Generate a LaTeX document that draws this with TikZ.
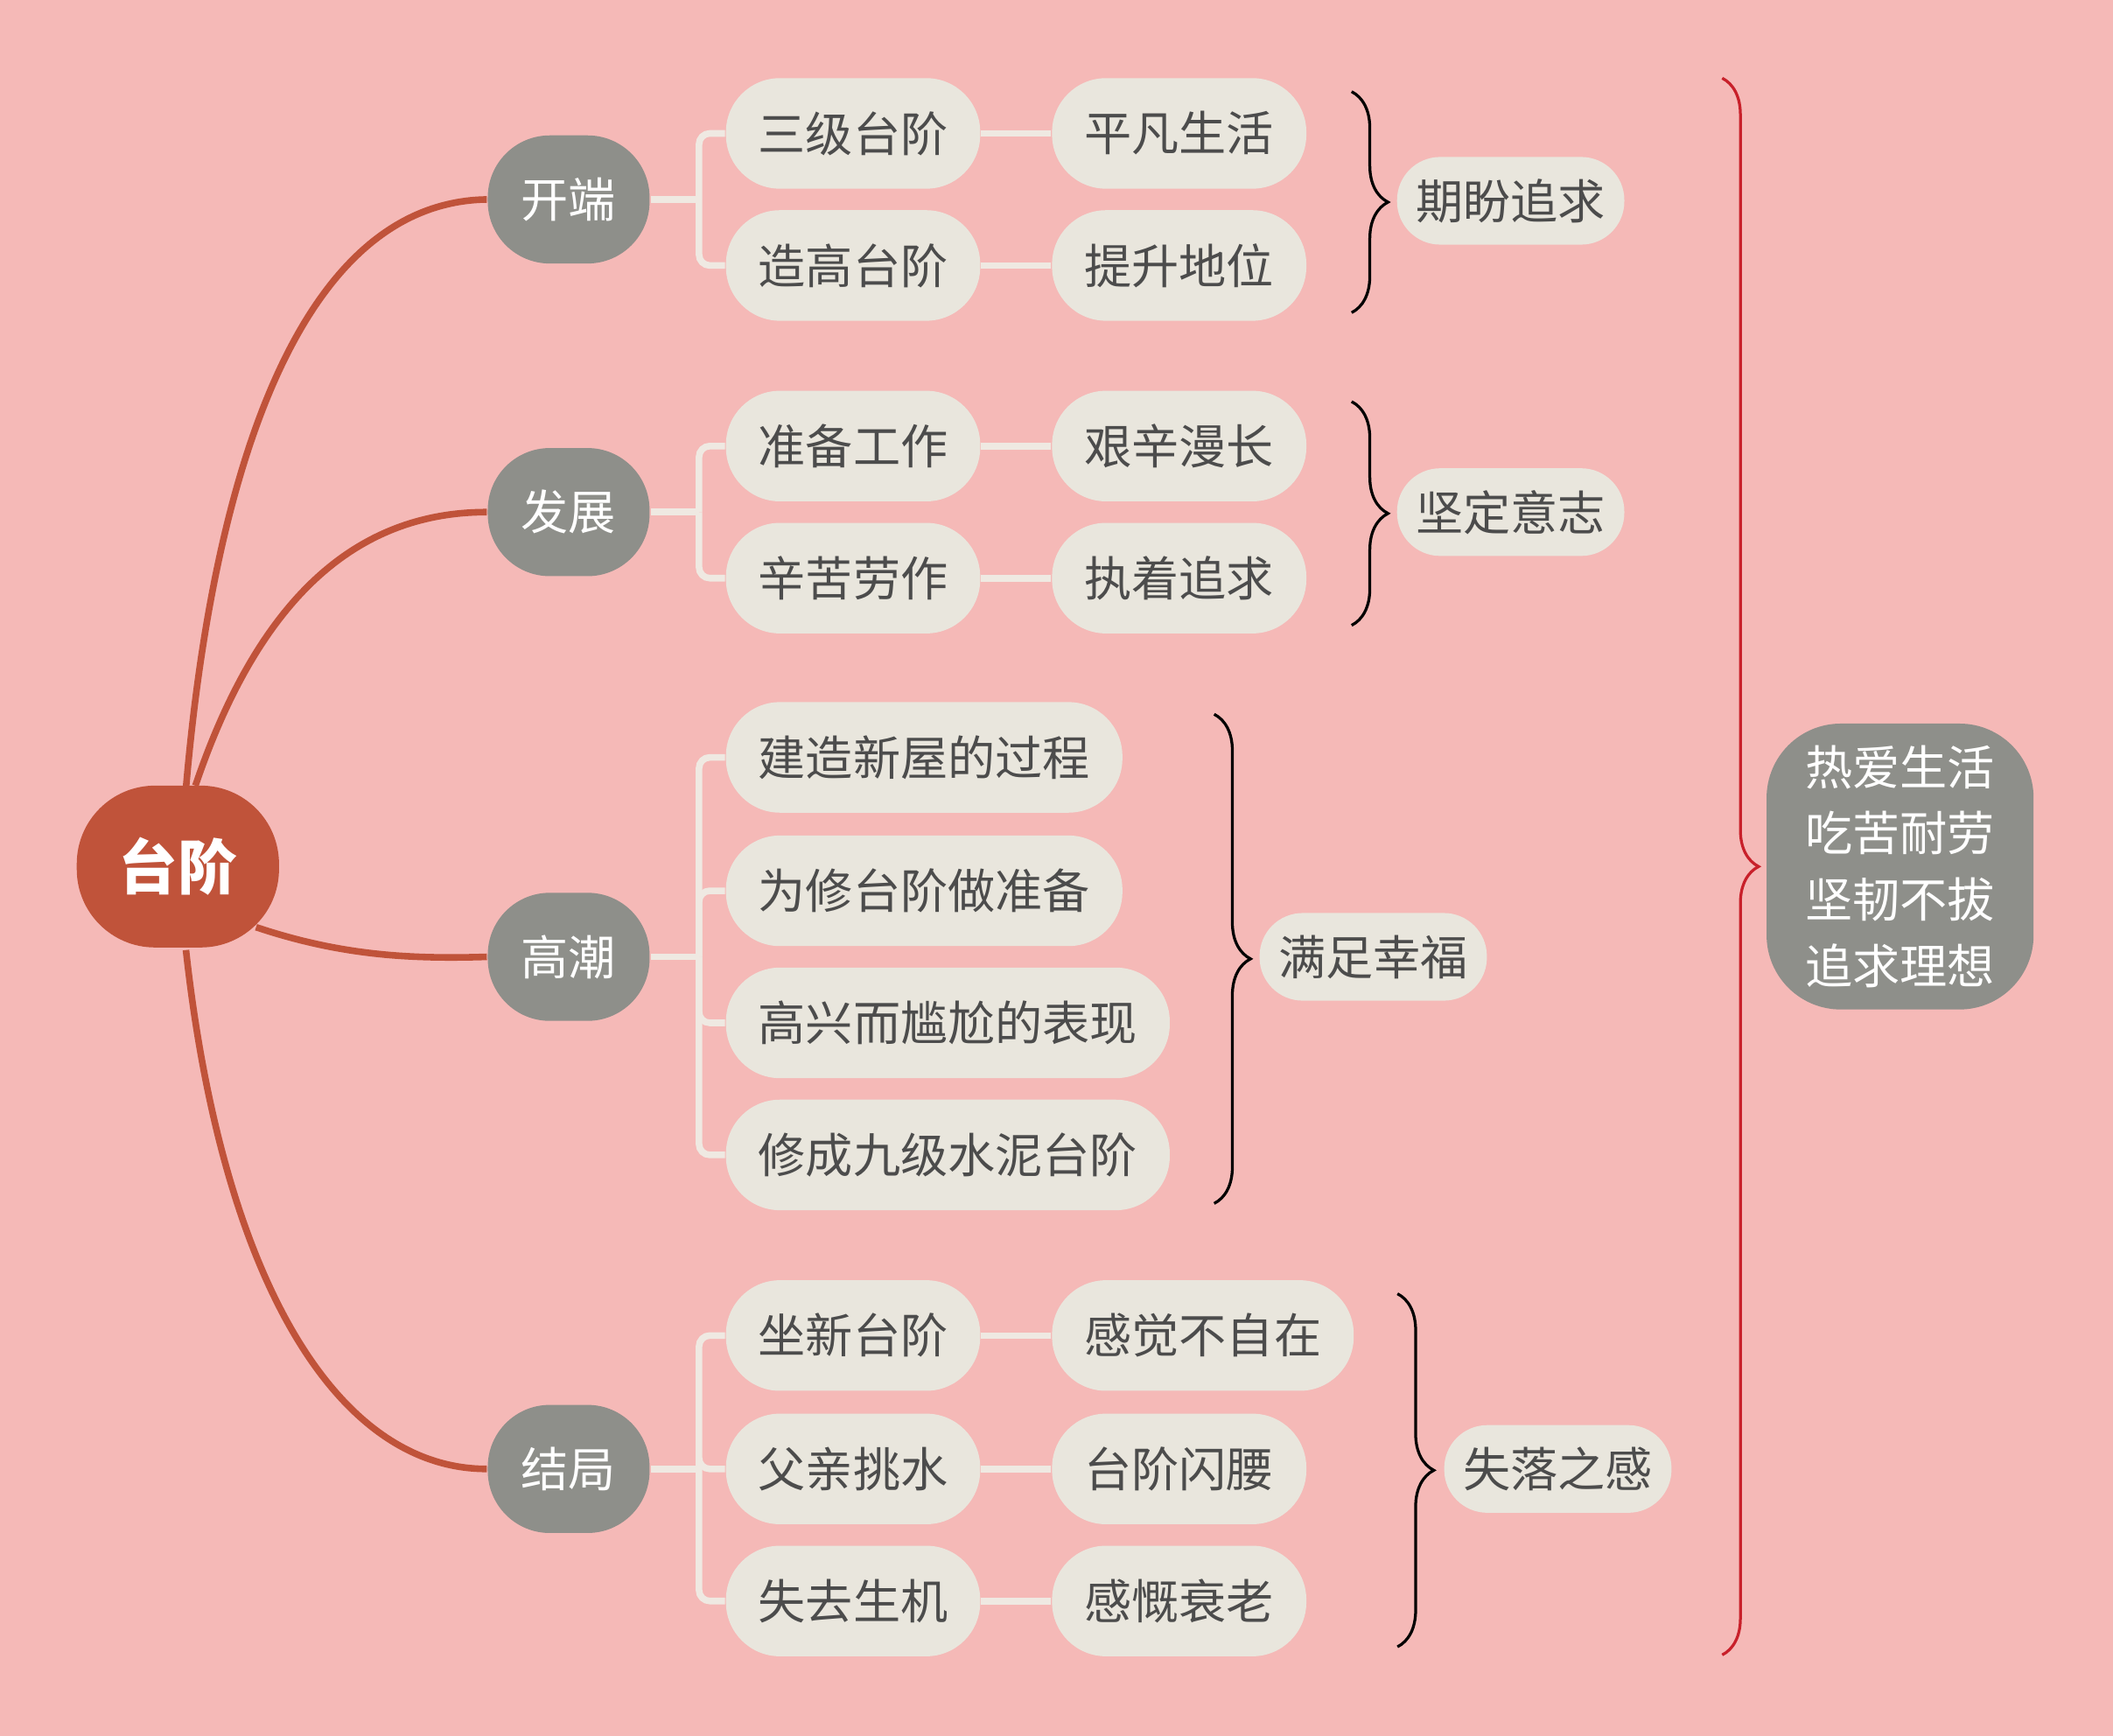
\documentclass[tikz,border=0pt]{standalone}
\usepackage{fontspec}
\setmainfont{Noto Sans CJK SC}
\usetikzlibrary{decorations.pathreplacing,calc}
\definecolor{mybg}{HTML}{F5B9B7}
\definecolor{myroot}{HTML}{C0533A}
\definecolor{mygray}{HTML}{8E8F8A}
\definecolor{mypill}{HTML}{E9E6DD}
\definecolor{mylink}{HTML}{EFE9E2}
\definecolor{myred}{HTML}{C8202A}
\tikzset{
	rootnode/.style={fill=myroot,text=white,rounded corners=5.8mm,minimum width=15mm,minimum height=12mm,inner sep=0,font=\fontsize{12.5pt}{15pt}\selectfont\bfseries},
	topicnode/.style={fill=mygray,text=white,rounded corners=4.6mm,minimum width=12mm,minimum height=9.5mm,inner sep=0,font=\fontsize{10pt}{12pt}\selectfont},
	pillnode/.style={fill=mypill,text=black!70,rounded corners=4mm,minimum height=8.2mm,inner xsep=2.4mm,inner ysep=0,font=\fontsize{10pt}{12pt}\selectfont},
	tagnode/.style={fill=mypill,text=black!70,rounded corners=3.2mm,minimum height=6.5mm,inner xsep=1.4mm,inner ysep=0,font=\fontsize{10pt}{12pt}\selectfont},
	sumnode/.style={fill=mygray,text=white,rounded corners=5.5mm,minimum width=19.8mm,minimum height=21.2mm,inner sep=0,align=center,font=\fontsize{10pt}{14pt}\selectfont},
	rootlink/.style={draw=myroot,line width=1.4pt},
	link/.style={draw=mylink,line width=1.4pt,rounded corners=0.8mm},
	bracket/.style={decorate,decoration={brace,amplitude=0.27cm},line width=0.6pt}
}
\begin{document}
\begin{tikzpicture}[x=0.01cm,y=-0.01cm]
	\fill[mybg] (0,0) rectangle (1568,1288);
	\useasboundingbox (0,0) rectangle (1568,1288);

	%% main nodes
	\node[rootnode] (taijie) at (132,643) {台阶};
	\node[topicnode] (kaiduan) at (422,148) {开端};
	\node[topicnode] (fazhan) at (422,380) {发展};
	\node[topicnode] (gaochao) at (422,710) {高潮};
	\node[topicnode] (jieju) at (422,1090) {结局};

	\draw[rootlink] (138,585) .. controls (160,330) and (230,150) .. (kaiduan.west);
	\draw[rootlink] (145,583) .. controls (190,450) and (260,380) .. (fazhan.west);
	\draw[rootlink] (190,688) .. controls (250,708) and (300,712) .. (gaochao.west);
	\draw[rootlink] (138,705) .. controls (165,950) and (250,1090) .. (jieju.west);

	%% second level
	\node[pillnode,anchor=west] (sanji) at (538,99) {三级台阶};
	\node[pillnode,anchor=west] (zaogao) at (538,197) {造高台阶};
	\node[pillnode,anchor=west] (zhunbei) at (538,331) {准备工作};
	\node[pillnode,anchor=west] (xinku) at (538,429) {辛苦劳作};
	\node[pillnode,anchor=west] (jianzao) at (538,562) {建造新屋的过程};
	\node[pillnode,anchor=west] (weixiu) at (538,661) {为修台阶做准备};
	\node[pillnode,anchor=west] (gaoxing) at (538,759) {高兴而尴尬的表现};
	\node[pillnode,anchor=west] (xiucheng) at (538,857) {修成九级水泥台阶};
	\node[pillnode,anchor=west] (zuoxin) at (538,991) {坐新台阶};
	\node[pillnode,anchor=west] (fuqin) at (538,1090) {父亲挑水};
	\node[pillnode,anchor=west] (shiqu) at (538,1188) {失去生机};

	\draw[link] (kaiduan.east) -- ++(36,0) coordinate (kd);
	\draw[link] (fazhan.east) -- ++(36,0) coordinate (fz);
	\draw[link] (gaochao.east) -- ++(36,0) coordinate (gc);
	\draw[link] (jieju.east) -- ++(36,0) coordinate (jj);
	\foreach \a/\b in {kd/sanji,kd/zaogao,fz/zhunbei,fz/xinku,gc/jianzao,gc/weixiu,gc/gaoxing,gc/xiucheng,jj/zuoxin,jj/fuqin,jj/shiqu}
		\draw[link] (\a) |- (\b.west);

	%% third level
	\node[pillnode,anchor=west] (pingfan) at (780,99) {平凡生活};
	\node[pillnode,anchor=west] (tisheng) at (780,197) {提升地位};
	\node[pillnode,anchor=west] (jianxin) at (780,331) {艰辛漫长};
	\node[pillnode,anchor=west] (zhizhuo) at (780,429) {执着追求};
	\node[pillnode,anchor=west] (ganjue) at (780,991) {感觉不自在};
	\node[pillnode,anchor=west] (shanyao) at (780,1090) {台阶闪腰};
	\node[pillnode,anchor=west] (gankai) at (780,1188) {感慨衰老};
	\foreach \a/\b in {sanji/pingfan,zaogao/tisheng,zhunbei/jianxin,xinku/zhizhuo,zuoxin/ganjue,fuqin/shanyao,shiqu/gankai}
		\draw[link] (\a.east) -- (\b.west);

	%% braces
	\draw[bracket] (1003,68) -- (1003,232) coordinate[midway] (b1);
	\draw[bracket] (1003,298) -- (1003,464) coordinate[midway] (b2);
	\draw[bracket] (901,530) -- (901,893) coordinate[midway] (b3);
	\draw[bracket] (1037,960) -- (1037,1222) coordinate[midway] (b4);
	\node[tagnode,anchor=west] (qipan) at (1036,149) {期盼追求};
	\node[tagnode,anchor=west] (jianding) at (1036,380) {坚定意志};
	\node[tagnode,anchor=west] (manzu) at (934,710) {满足幸福};
	\node[tagnode,anchor=west] (shiluo) at (1071,1090) {失落之感};

	\draw[bracket,draw=myred] (1278,58) -- (1278,1228);
	\node[sumnode] (zongjie) at (1410,643) {热爱生活\\吃苦耐劳\\坚韧不拔\\追求理想};
\end{tikzpicture}
\end{document}
